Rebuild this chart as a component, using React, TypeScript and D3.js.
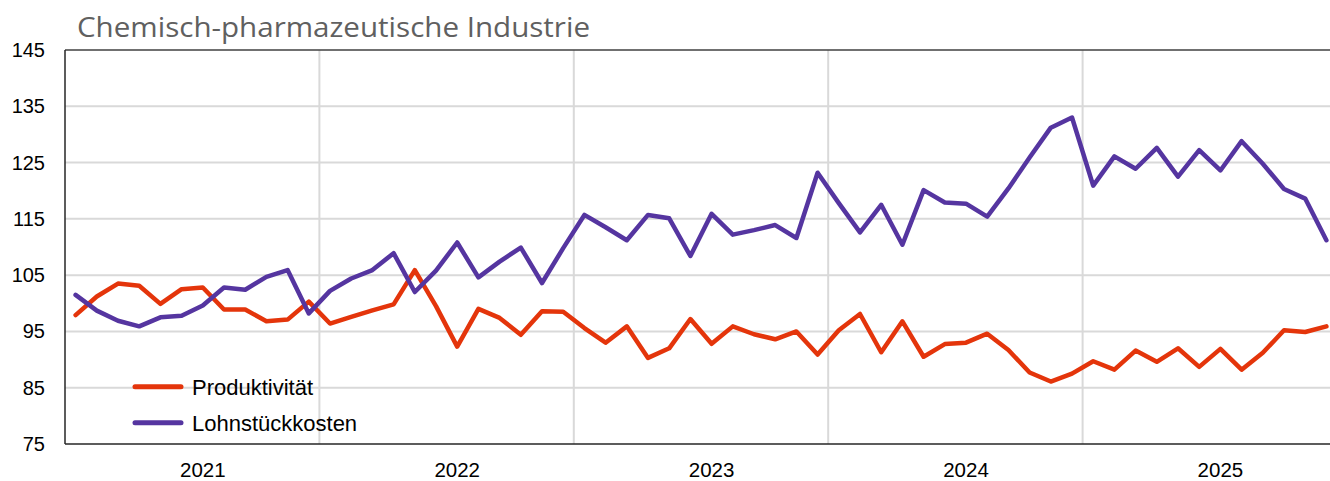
import React from "react";
import * as d3 from "d3";

const title = "Chemisch-pharmazeutische Industrie";
const years = ["2021", "2022", "2023", "2024", "2025"];
const yTicks = [75, 85, 95, 105, 115, 125, 135, 145];

const produktivitaet = [
  97.9, 101.2, 103.5, 103.1, 99.9, 102.5, 102.8, 98.9, 98.9, 96.8, 97.1, 100.3,
  96.4, 97.6, 98.75, 99.8, 105.9, 99.5, 92.3, 99.0, 97.4, 94.4, 98.6, 98.5,
  95.6, 93.0, 95.9, 90.3, 92.0, 97.2, 92.8, 95.9, 94.5, 93.6, 95.0, 90.9,
  95.2, 98.1, 91.3, 96.8, 90.5, 92.75, 93.0, 94.6, 91.7, 87.7, 86.1, 87.5,
  89.7, 88.2, 91.6, 89.6, 92.0, 88.7, 91.9, 88.2, 91.2, 95.2, 94.9, 95.9,
];
const lohnstueckkosten = [
  101.5, 98.7, 96.9, 95.9, 97.5, 97.8, 99.6, 102.8, 102.4, 104.7, 105.9, 98.2,
  102.2, 104.4, 105.9, 108.9, 102.0, 105.8, 110.8, 104.6, 107.4, 109.9, 103.6, 109.8,
  115.7, 113.5, 111.2, 115.7, 115.1, 108.4, 115.9, 112.2, 113.0, 113.9, 111.6, 123.2,
  117.8, 112.6, 117.5, 110.4, 120.1, 117.9, 117.7, 115.4, 120.4, 125.9, 131.2, 133.0,
  120.9, 126.1, 123.9, 127.6, 122.5, 127.2, 123.6, 128.8, 124.8, 120.3, 118.6, 111.2,
];

const series = [
  { name: "Produktivität", values: produktivitaet, color: "#E4350B" },
  { name: "Lohnstückkosten", values: lohnstueckkosten, color: "#5535A0" },
];

const W = 1330;
const H = 481;
const left = 65;
const right = 1337;
const top = 50;
const bottom = 444;

export default function App() {
  const n = produktivitaet.length;
  const x = d3.scaleLinear().domain([0, n]).range([left, right]);
  const y = d3.scaleLinear().domain([75, 145]).range([bottom, top]);
  const line = d3
    .line<number>()
    .x((_, i) => x(i + 0.5))
    .y((d) => y(d));

  return (
    <div style={{ position: "absolute", left: 0, top: 0 }}>
      <svg width={W} height={H} style={{ display: "block", background: "#fff" }}>
        <text
          x={77}
          y={37}
          fontFamily="'Open Sans', 'Noto Sans', sans-serif"
          fontSize={28}
          fill="#606060"
          textLength={513}
          lengthAdjust="spacingAndGlyphs"
        >
          {title}
        </text>
        {/* horizontal grid */}
        {yTicks.slice(1, -1).map((t) => (
          <line key={t} x1={left} x2={right} y1={y(t)} y2={y(t)} stroke="#D9D9D9" strokeWidth={2} />
        ))}
        {/* vertical grid */}
        {years.slice(1).map((_, k) => (
          <line
            key={k}
            x1={x((k + 1) * 12)}
            x2={x((k + 1) * 12)}
            y1={top}
            y2={bottom}
            stroke="#D9D9D9"
            strokeWidth={2}
          />
        ))}
        {/* frame */}
        <line x1={left} x2={right} y1={top} y2={top} stroke="#404040" strokeWidth={1.3} />
        <line x1={left} x2={right} y1={bottom} y2={bottom} stroke="#262626" strokeWidth={1.5} />
        <line x1={left} x2={left} y1={top} y2={bottom} stroke="#262626" strokeWidth={1.5} />
        {/* y labels */}
        {yTicks.map((t) => (
          <text
            key={t}
            x={45}
            y={y(t) + 7}
            textAnchor="end"
            fontFamily="'Liberation Sans', Arial, sans-serif"
            fontSize={20}
            fill="#000"
          >
            {t}
          </text>
        ))}
        {/* x labels */}
        {years.map((yr, k) => (
          <text
            key={yr}
            x={x(k * 12 + 6.5)}
            y={477}
            textAnchor="middle"
            fontFamily="'Liberation Sans', Arial, sans-serif"
            fontSize={20.5}
            fill="#000"
          >
            {yr}
          </text>
        ))}
        {/* lines */}
        {series.map((s) => (
          <path
            key={s.name}
            d={line(s.values) || ""}
            fill="none"
            stroke={s.color}
            strokeWidth={4.5}
            strokeLinejoin="round"
            strokeLinecap="round"
          />
        ))}
        {/* legend */}
        {series.map((s, k) => (
          <g key={s.name} transform={`translate(0, ${386.7 + k * 36})`}>
            <line x1={135} x2={181} y1={0} y2={0} stroke={s.color} strokeWidth={5} strokeLinecap="round" />
            <text
              x={192}
              y={8}
              fontFamily="'Liberation Sans', Arial, sans-serif"
              fontSize={22}
              fill="#000"
            >
              {s.name}
            </text>
          </g>
        ))}
      </svg>
    </div>
  );
}
